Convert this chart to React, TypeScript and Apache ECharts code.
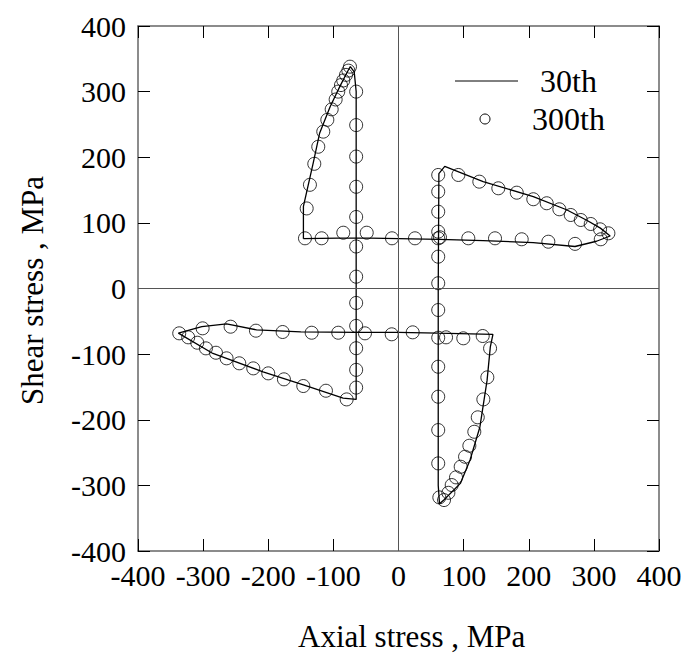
import React, { useEffect, useRef } from "react";
import * as echarts from "echarts";

const axisTicks = [-400, -300, -200, -100, 0, 100, 200, 300, 400];

// 30th cycle (solid line), axial stress (MPa), shear stress (MPa)
const cycle30X = [
  -146, -146, -131, -121, -105, -90, -77, -74, -68, -65, -65, -65,
  -85, -146, -208, -285, -338, -302, -264, -218, -150, -65, 0, 60, 145,
  141, 136, 125, 110, 95, 70, 63, 61, 61, 62, 71,
  130, 207, 258, 289, 310, 325, 304, 271, 207, 130, 63, 0, -65, -146,
];
const cycle30Y = [
  76, 125, 191, 237, 277, 308, 333, 338, 330, 300, 0, -169,
  -167, -147, -127, -99, -68, -58, -54, -63, -66, -67, -67, -68, -70,
  -89, -140, -211, -261, -297, -322, -328, -300, 0, 175, 186,
  163, 140, 120, 104, 92, 80, 72, 64, 70, 73, 75, 76, 77, 76,
];

// 300th cycle (open circles)
const cycle300X = [
  -74.5, -77, -80.6, -84.8, -88.3, -92.5, -96.5, -102.6, -109.3, -115.5, -123.2, -129.3, -136, -141, -143.6, -118, -84.8, -48.8,
  -65, -65, -65, -65, -65, -65, -65, -65, -65, -65, -65, -65,
  -79.6, -111.4, -146.2, -175.9, -200, -223, -244.5, -264, -280.3, -295.7, -309, -322.9, -336.7, -300.8, -257.8, -218.9, -177.9, -133.3, -92.5, -51.5,
  -10.4, 21.8, 61, 73, 99.5, 129.3,
  140.6, 136.4, 130.3, 121.7, 116.4, 108.8, 102.2, 95.5, 88.3, 81.7, 76.6, 69.9, 62.7,
  61, 61, 61, 61, 61, 61, 61, 61, 61, 61, 61, 61,
  91.9, 124.1, 153.3, 181.6, 207, 227.6, 247, 264.5, 279.9, 295.2, 309.5, 322.3,
  310.6, 271.1, 230.1, 189.2, 148.2, 107.2, 63.7, 25.3, -10,
];
const cycle300Y = [
  338, 332, 325.5, 317, 310, 300, 288, 273, 257, 239, 216, 190, 158, 122, 76.5, 76.5, 85, 85,
  300, 249, 201, 155, 109, 64, 18, -22, -57, -91, -124, -151,
  -169, -155.8, -148.6, -138.4, -129.3, -121.7, -114, -106.4, -97.9, -91.2, -82.6, -74.4, -68.3, -60.7, -58.2, -64.3, -66.3, -67.4, -67.4, -68.3,
  -69.8, -66.8, -75, -74.4, -75.9, -72.4,
  -91.2, -135.4, -169, -196.3, -218.3, -239.6, -256.4, -271.6, -287.8, -299.5, -311.3, -322.4, -318.3,
  -266.5, -215.7, -164.9, -119.2, -32.8, 8, 48.5, 76.5, 86.6, 117, 147.6, 173,
  173, 162.8, 152.7, 146, 136, 129.9, 120.7, 112, 104.4, 98.3, 90.2, 84.1,
  75, 68, 71.3, 75, 76.5, 76.5, 78, 76.5, 76.5,
];

const seriesNames = ["30th", "300th"];
const xTitle = "Axial stress , MPa";
const yTitle = "Shear stress , MPa";

const FONT = "Liberation Serif";

export default function App() {
  const ref = useRef<HTMLDivElement>(null);
  useEffect(() => {
    document.body.style.margin = "0";
    if (!ref.current) return;
    const chart = echarts.init(ref.current, null, { renderer: "svg" });
    const line30 = cycle30X.map((x, i) => [x, cycle30Y[i]]);
    const pts300 = cycle300X.map((x, i) => [x, cycle300Y[i]]);
    const labelStyle = { color: "#000", fontFamily: FONT, fontSize: 30 };
    const baseAxis = {
      type: "value" as const,
      min: axisTicks[0],
      max: axisTicks[axisTicks.length - 1],
      interval: 100,
      splitLine: { show: false },
      axisLine: { show: true, onZero: false, lineStyle: { color: "#666", width: 1.5 } },
      axisTick: { show: true, inside: true, length: 12, lineStyle: { color: "#000", width: 1 } },
    };
    const textStyle = (size: number) => ({ fill: "#000", fontFamily: FONT, fontSize: size });
    chart.setOption({
      animation: false,
      backgroundColor: "#fff",
      grid: { left: 138, right: 29, top: 26, bottom: 107, containLabel: false },
      xAxis: [
        {
          ...baseAxis,
          position: "bottom",
          axisLabel: { ...labelStyle, margin: 9, formatter: (v: number) => String(v) },
        },
        { ...baseAxis, position: "top", axisLabel: { show: false } },
      ],
      yAxis: [
        {
          ...baseAxis,
          position: "left",
          axisLabel: { ...labelStyle, margin: 12, formatter: (v: number) => String(v) },
        },
        { ...baseAxis, position: "right", axisLabel: { show: false } },
      ],
      graphic: [
        {
          type: "text",
          x: 298,
          y: 636,
          style: { text: xTitle, ...textStyle(31), textVerticalAlign: "middle" },
        },
        {
          type: "text",
          x: 17,
          y: 405,
          rotation: Math.PI / 2,
          style: { text: yTitle, ...textStyle(31), textVerticalAlign: "top" },
        },
        {
          type: "line",
          shape: { x1: 455, y1: 81, x2: 518, y2: 81 },
          style: { stroke: "#000", lineWidth: 1 },
        },
        {
          type: "text",
          x: 540,
          y: 81,
          style: { text: seriesNames[0], ...textStyle(32), textVerticalAlign: "middle" },
        },
        {
          type: "circle",
          shape: { cx: 485, cy: 119, r: 5 },
          style: { fill: "none", stroke: "#000", lineWidth: 1 },
        },
        {
          type: "text",
          x: 532,
          y: 119,
          style: { text: seriesNames[1], ...textStyle(32), textVerticalAlign: "middle" },
        },
      ],
      series: [
        {
          name: seriesNames[0],
          type: "line",
          data: line30,
          showSymbol: false,
          symbol: "none",
          lineStyle: { color: "#000", width: 1.3 },
          markLine: {
            silent: true,
            symbol: "none",
            label: { show: false },
            lineStyle: { color: "#555", width: 1, type: "solid" },
            data: [{ xAxis: 0 }, { yAxis: 0 }],
          },
        },
        {
          name: seriesNames[1],
          type: "scatter",
          data: pts300,
          symbol: "circle",
          symbolSize: 13,
          itemStyle: { color: "rgba(0,0,0,0)", borderColor: "#000", borderWidth: 1 },
        },
      ],
    });
    return () => chart.dispose();
  }, []);
  return <div ref={ref} style={{ width: 688, height: 658 }} />;
}
